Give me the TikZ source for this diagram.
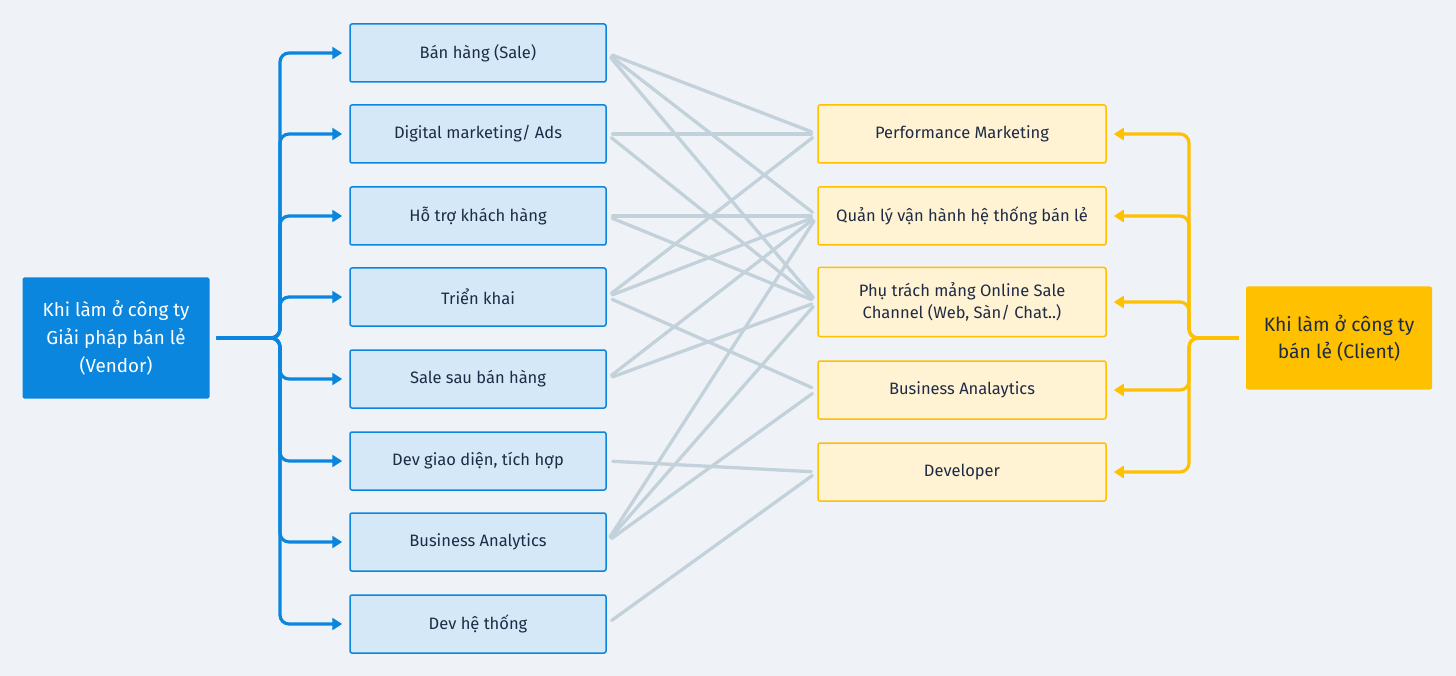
\documentclass[tikz,border=0pt]{standalone}
\usepackage{fontspec}
\setmainfont{Fira Sans}
\usetikzlibrary{arrows.meta}
\definecolor{pagebg}{HTML}{EFF3F8}
\definecolor{vendorblue}{HTML}{0A86DE}
\definecolor{vendorlight}{HTML}{D5E8F8}
\definecolor{clientgold}{HTML}{FFC000}
\definecolor{clientlight}{HTML}{FFF3D3}
\definecolor{crossgray}{HTML}{C3D1DB}
\definecolor{textnavy}{HTML}{1E2B45}
\tikzset{
        vrole/.style={draw=vendorblue, fill=vendorlight, line width=1.5pt, rounded corners=2pt,
                minimum width=256pt, minimum height=58pt, text=textnavy, align=center,
                font=\fontsize{16.5}{22}\selectfont},
        crole/.style={draw=clientgold, fill=clientlight, line width=1.5pt, rounded corners=2pt,
                minimum width=288pt, minimum height=58pt, text=textnavy, align=center,
                font=\fontsize{16.5}{22}\selectfont},
        vlink/.style={draw=vendorblue, line width=3.2pt, rounded corners=9pt,
                -{Triangle[length=10pt,width=12pt]}, shorten <=7pt, shorten >=7pt},
        clink/.style={draw=clientgold, line width=3.2pt, rounded corners=9pt,
                -{Triangle[length=10pt,width=12pt]}, shorten <=7pt, shorten >=7pt},
        cross/.style={draw=crossgray, line width=3.3pt, line cap=round, shorten <=6pt, shorten >=6pt}
    }

\begin{document}
\begin{tikzpicture}[x=1pt,y=-1pt]

\fill[pagebg] (0,0) rectangle (1456,676);
\useasboundingbox (0,0) rectangle (1456,676);

% main companies
\draw (116,338) node(VENDOR)[fill=vendorblue, rounded corners=2pt, minimum width=187pt, minimum height=121pt,
        text=white, align=center, font=\fontsize{18.8}{28}\selectfont]{Khi làm ở công ty\\Giải pháp bán lẻ\\(Vendor)};
\draw (1339,338) node(CLIENT)[fill=clientgold, rounded corners=2pt, minimum width=186pt, minimum height=103pt,
        text=textnavy, align=center, font=\fontsize{19.3}{27}\selectfont]{Khi làm ở công ty\\bán lẻ (Client)};

% vendor roles
\draw (478,53) node(SALE)[vrole]{Bán hàng (Sale)};
\draw (478,134) node(ADS)[vrole]{Digital marketing/ Ads};
\draw (478,216) node(SUPPORT)[vrole]{Hỗ trợ khách hàng};
\draw (478,297) node(DEPLOY)[vrole]{Triển khai};
\draw (478,379) node(AFTER)[vrole]{Sale sau bán hàng};
\draw (478,461) node(UIDEV)[vrole]{Dev giao diện, tích hợp};
\draw (478,542) node(VBA)[vrole]{Business Analytics};
\draw (478,624) node(SYSDEV)[vrole]{Dev hệ thống};

% client roles
\draw (962,134) node(PERF)[crole]{Performance Marketing};
\draw (962,216) node(OPS)[crole]{Quản lý vận hành hệ thống bán lẻ};
\draw (962,302) node(ONLINE)[crole, minimum height=69pt]{Phụ trách mảng Online Sale\\Channel (Web, Sàn/ Chat..)};
\draw (962,390) node(CBA)[crole]{Business Analaytics};
\draw (962,472) node(CDEV)[crole]{Developer};

\coordinate (VFORK) at (280,338);
\coordinate (CFORK) at (1189,338);

\draw[vlink] (VENDOR.east) -- (VFORK) |- (SALE.west);
\draw[vlink] (VENDOR.east) -- (VFORK) |- (ADS.west);
\draw[vlink] (VENDOR.east) -- (VFORK) |- (SUPPORT.west);
\draw[vlink] (VENDOR.east) -- (VFORK) |- (DEPLOY.west);
\draw[vlink] (VENDOR.east) -- (VFORK) |- (AFTER.west);
\draw[vlink] (VENDOR.east) -- (VFORK) |- (UIDEV.west);
\draw[vlink] (VENDOR.east) -- (VFORK) |- (VBA.west);
\draw[vlink] (VENDOR.east) -- (VFORK) |- (SYSDEV.west);

\draw[clink] (CLIENT.west) -- (CFORK) |- (PERF.east);
\draw[clink] (CLIENT.west) -- (CFORK) |- (OPS.east);
\draw[clink] (CLIENT.west) -- (CFORK) |- (ONLINE.east);
\draw[clink] (CLIENT.west) -- (CFORK) |- (CBA.east);
\draw[clink] (CLIENT.west) -- (CFORK) |- (CDEV.east);

% who moves where
\draw[cross] (SALE.east) -- (PERF.west);
\draw[cross] (SALE.east) -- (OPS.west);
\draw[cross] (SALE.east) -- (ONLINE.west);
\draw[cross] (ADS.east) -- (PERF.west);
\draw[cross] (ADS.east) -- (ONLINE.west);
\draw[cross] (SUPPORT.east) -- (OPS.west);
\draw[cross] (SUPPORT.east) -- (ONLINE.west);
\draw[cross] (DEPLOY.east) -- (PERF.west);
\draw[cross] (DEPLOY.east) -- (OPS.west);
\draw[cross] (DEPLOY.east) -- (CBA.west);
\draw[cross] (AFTER.east) -- (OPS.west);
\draw[cross] (AFTER.east) -- (ONLINE.west);
\draw[cross] (UIDEV.east) -- (CDEV.west);
\draw[cross] (VBA.east) -- (OPS.west);
\draw[cross] (VBA.east) -- (ONLINE.west);
\draw[cross] (VBA.east) -- (CBA.west);
\draw[cross] (SYSDEV.east) -- (CDEV.west);

\end{tikzpicture}
\end{document}
